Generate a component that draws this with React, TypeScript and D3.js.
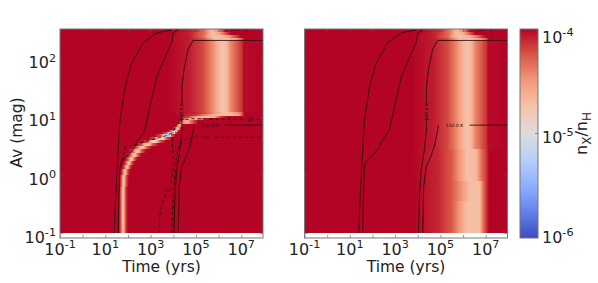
import React, { useEffect, useRef } from 'react';
import * as d3 from 'd3';

const width = 598;
const height = 283;
const panelLefts = [60, 304.5];
const panelWidth = 203;
const plotTop = 29;
const plotBottom = 238;
const font = '"DejaVu Sans", sans-serif';

// all values are log10: time in yrs, Av in mag, abundance n_X/n_H
const timeRange = [-1, 7.96];
const avRange = [-1.086, 2.517];
const xTickPowers = [-1, 0, 1, 2, 3, 4, 5, 6, 7];
const xLabelPowers = [-1, 1, 3, 5, 7];
const yTickPowers = [-1, 0, 1, 2];
const colorPowers = [-4, -5, -6];
const colorLabelShift = [14, 9.5, 5];
const coolwarm = ['#3b4cc0', '#6282ea', '#8db0fe', '#b7cff9', '#dddcdc', '#f5c4ac', '#f49a7b', '#d95847', '#b40426'];

type Stop = [number, number];
type Row = { top: number; stops: Stop[] };

// the narrow ridge in the left panel, one entry per row of the image
const ridgeAvTop = [-0.5, -0.2, 0, 0.1, 0.17, 0.24, 0.31, 0.38, 0.44, 0.5, 0.55, 0.6, 0.65, 0.7, 0.74, 0.78, 0.83, 0.88];
const ridgeCenter = [1.78, 1.78, 1.81, 1.87, 1.96, 2.04, 2.15, 2.28, 2.42, 2.62, 2.85, 3.15, 3.45, 3.78, 3.98, 4.1, 4.2, 4.29];
const ridgePeak = [-4.85, -4.85, -4.85, -4.85, -4.85, -4.85, -4.85, -4.85, -4.85, -4.85, -4.9, -5.05, -5.25, -5.5, -5.7, -5.45, -4.85, -4.7];
const ridgeLeft = [1.6, 1.6, 1.62, 1.67, 1.74, 1.8, 1.87, 1.95, 2.03, 2.17, 2.35, 2.6, 2.9, 3.15, 3.45, 3.72, 3.98, 4.08];
const ridgeRight = [1.98, 1.98, 2.02, 2.08, 2.18, 2.28, 2.42, 2.6, 2.8, 3.05, 3.35, 3.68, 3.95, 4.1, 4.2, 4.27, 4.36, 4.43];
const ridgeShoulder = -4.25;

const shoulderRows: Row[] = [
  { top: 0.95, stops: [[4.25, -4], [4.38, -4.35], [4.6, -4.65], [4.85, -4.25], [5.1, -4]] },
  { top: 0.985, stops: [[4.35, -4], [4.6, -4.55], [4.95, -4.72], [5.2, -4.35], [5.5, -4.05], [5.7, -4]] },
  { top: 1.02, stops: [[4.3, -4], [4.7, -4.2], [5, -4.55], [5.4, -4.72], [5.8, -4.6], [6.1, -4.15], [6.4, -4]] },
  { top: 1.055, stops: [[4.1, -4], [5, -4.15], [5.5, -4.45], [6, -4.72], [6.5, -4.72], [6.9, -4.55], [7.05, -4.2], [7.15, -4]] },
  { top: 1.09, stops: [[3.9, -4], [5, -4.1], [5.5, -4.25], [6, -4.6], [6.3, -4.74], [6.6, -4.6], [7, -4.35], [7.08, -4.1], [7.15, -4]] },
];

// the wide late-time band, shared by both panels high up in the cloud
const bandStops: Stop[] = [[3.75, -4], [4.7, -4.07], [5.3, -4.2], [5.75, -4.45], [6.06, -4.7], [6.2, -4.74], [6.37, -4.68], [6.5, -4.45], [6.9, -4.2], [7.03, -4.15], [7.1, -4.02], [7.95, -4]];
const capRows: Row[] = [
  { top: 2.33, stops: bandStops },
  { top: 2.37, stops: [[3.75, -4], [4.7, -4.07], [5.3, -4.22], [5.6, -4.45], [5.85, -4.72], [6.4, -4.72], [6.8, -4.5], [7, -4.3], [7.15, -4]] },
  { top: 2.42, stops: [[3.75, -4], [4.7, -4.08], [5.3, -4.3], [5.6, -4.6], [5.84, -4.75], [6.3, -4.62], [6.7, -4.25], [6.95, -4.05], [7, -4]] },
  { top: 2.47, stops: [[4, -4], [4.8, -4.1], [5.4, -4.35], [5.7, -4.72], [6, -4.62], [6.3, -4.25], [6.55, -4]] },
  { top: 2.52, stops: [[4.2, -4], [5, -4.12], [5.4, -4.35], [5.7, -4.7], [5.9, -4.55], [6.2, -4.15], [6.3, -4]] },
];

const rightLowRows: Row[] = [
  { top: -0.45, stops: [[3.85, -4], [4.89, -4.1], [5.49, -4.25], [5.93, -4.55], [6.17, -4.72], [6.72, -4.72], [6.87, -4.35], [7.08, -4.08], [7.12, -4]] },
  { top: -0.1, stops: [[3.85, -4], [4.89, -4.1], [5.49, -4.25], [6, -4.52], [6.3, -4.72], [6.72, -4.72], [6.87, -4.35], [7.08, -4.08], [7.12, -4]] },
  { top: 0.45, stops: [[3.8, -4], [4.89, -4.1], [5.49, -4.25], [5.93, -4.55], [6.17, -4.73], [6.55, -4.7], [6.8, -4.35], [7.08, -4.1], [7.12, -4]] },
];

const contourA = { t: [1.395, 1.457, 1.57, 1.62, 1.65, 1.87, 2.16, 2.67, 3.27, 3.63, 3.93], av: [-1, -0.38, 0.43, 0.78, 0.95, 1.52, 1.93, 2.28, 2.45, 2.48, 2.5] };
const contourB = { t: [1.57, 1.6, 1.65, 1.72, 2.09, 2.31, 2.35, 2.53, 2.75, 2.97, 3.27, 3.71, 3.93, 4, 4.2], av: [-1, -0.38, 0.14, 0.23, 0.38, 0.49, 0.55, 0.64, 0.78, 1.18, 1.69, 2.1, 2.28, 2.45, 2.51] };
const contourC1 = { t: [4.03, 4.07, 4.15, 4.29, 4.38, 4.38], av: [-1, -0.38, 0.09, 0.43, 0.78, 0.966] };
const contourC2 = { t: [4.38, 4.38, 4.47, 4.65, 4.87, 7.95], av: [1.207, 1.52, 1.81, 2.16, 2.32, 2.32] };
const contourD1 = { t: [4.22, 4.26, 4.37, 4.51, 4.73, 4.88, 4.91], av: [-1, -0.2, 0.14, 0.26, 0.49, 0.78, 0.86] };
const contourD2 = { t: [6.28, 7.95], av: [0.86, 0.86] };
const solidContours = [contourA, contourB, contourC1, contourC2, contourD1, contourD2];

const dashE1a = { t: [3.38, 3.41, 3.56, 3.68], av: [-1, -0.66, -0.43, -0.33] };
const dashE1b = { t: [3.9, 4, 4, 3.95, 3.93], av: [-0.14, 0.1, 0.35, 0.6, 0.7] };
const dashE2a = { t: [3.93, 4, 4.12, 4.2, 4.37, 5.03], av: [-1, -0.38, 0.26, 0.43, 0.6, 0.66] };
const dashE2b = { t: [5.84, 7.95], av: [0.65, 0.65] };
const dashE3a = { t: [1.68, 1.87, 2.4, 2.97, 3.63, 3.98, 4.12, 4.34, 4.87, 7.16], av: [0.14, 0.48, 0.53, 0.6, 0.67, 0.73, 0.86, 0.95, 0.97, 0.96] };
const dashE3b = { t: [7.69, 7.95], av: [0.96, 0.96] };
const dashedContours = [dashE1a, dashE1b, dashE2a, dashE2b, dashE3a, dashE3b];

const sharedLabels = [
  { t: 4.38, av: 1.09, text: '200.0 K', angle: -90 },
  { t: 5.62, av: 0.86, text: '150.0 K', angle: 0 },
  { t: 6.9, av: 2.51, text: '300.0 K', angle: 0 },
];
const dashLabels = [
  { t: 3.76, av: -0.27, text: '10⁷', angle: 0 },
  { t: 5.42, av: 0.655, text: '10⁵', angle: 0 },
  { t: 7.41, av: 0.96, text: '10⁶', angle: 0 },
];

const ridgeRows: Row[] = ridgeAvTop.map((top, i) => ({
  top,
  stops: [
    [ridgeLeft[i], -4],
    [(ridgeLeft[i] + ridgeCenter[i]) / 2, ridgeShoulder],
    [ridgeCenter[i], ridgePeak[i]],
    [(ridgeRight[i] + ridgeCenter[i]) / 2, ridgeShoulder],
    [ridgeRight[i], -4],
  ] as Stop[],
}));
const leftRows = [...ridgeRows, ...shoulderRows, ...capRows];
const rightRows = [...rightLowRows, ...capRows];

const colorScale = d3
  .scaleLinear<string>()
  .domain(coolwarm.map((_, i) => -6 + (2 * i) / (coolwarm.length - 1)))
  .range(coolwarm)
  .interpolate(d3.interpolateRgb);

const App = () => {
  const svgRef = useRef<SVGSVGElement>(null);

  useEffect(() => {
    const svg = d3.select(svgRef.current);
    svg.selectAll('*').remove();
    const defs = svg.append('defs');

    const y = d3
      .scaleLog()
      .domain([10 ** avRange[0], 10 ** avRange[1]])
      .range([plotBottom, plotTop]);

    const powerLabel = (sel: any, power: number, anchor: string, size: number) => {
      const text = sel.attr('text-anchor', anchor).attr('font-family', font).attr('font-size', size).attr('fill', '#222');
      text.append('tspan').text('10');
      text.append('tspan').attr('font-size', size * 0.7).attr('dy', -size * 0.42).text(String(power));
      return text;
    };

    panelLefts.forEach((left, p) => {
      const x = d3
        .scaleLog()
        .domain([10 ** timeRange[0], 10 ** timeRange[1]])
        .range([left, left + panelWidth]);
      const g = svg.append('g');
      const rows = p === 0 ? leftRows : rightRows;

      // heat rows, each with a horizontal gradient along time
      const samples = d3.range(timeRange[0], timeRange[1] + 0.04, 0.05);
      const heat = g.append('g').attr('shape-rendering', 'crispEdges');
      rows.forEach((row, i) => {
        const id = `row-${p}-${i}`;
        const value = d3
          .scaleLinear()
          .domain(row.stops.map(s => s[0]))
          .range(row.stops.map(s => s[1]))
          .clamp(true);
        defs
          .append('linearGradient')
          .attr('id', id)
          .attr('gradientUnits', 'userSpaceOnUse')
          .attr('x1', x.range()[0])
          .attr('x2', x.range()[1])
          .attr('y1', 0)
          .attr('y2', 0)
          .selectAll('stop')
          .data(samples)
          .join('stop')
          .attr('offset', d => (d - timeRange[0]) / (timeRange[1] - timeRange[0]))
          .attr('stop-color', d => colorScale(value(d)));
        const bottom = i === 0 ? -1 : rows[i - 1].top;
        const y0 = Math.round(y(10 ** bottom));
        const y1 = Math.round(Math.max(y(10 ** Math.min(row.top, avRange[1])), plotTop));
        heat
          .append('rect')
          .attr('x', x.range()[0])
          .attr('y', y1)
          .attr('width', panelWidth)
          .attr('height', y0 - y1)
          .attr('fill', `url(#${id})`);
      });

      // contours
      const clipId = `clip-${p}`;
      defs
        .append('clipPath')
        .attr('id', clipId)
        .append('rect')
        .attr('x', left)
        .attr('y', plotTop)
        .attr('width', panelWidth)
        .attr('height', plotBottom - plotTop);
      const lines = g.append('g').attr('clip-path', `url(#${clipId})`);
      const path = (c: { t: number[]; av: number[] }) =>
        d3.line()(c.t.map((t, i) => [x(10 ** t), y(10 ** c.av[i])]));
      lines
        .selectAll('path.solid')
        .data(solidContours)
        .join('path')
        .attr('class', 'solid')
        .attr('d', path)
        .attr('fill', 'none')
        .attr('stroke', '#1a0005')
        .attr('stroke-width', 0.8);
      if (p === 0) {
        lines
          .selectAll('path.dashed')
          .data(dashedContours)
          .join('path')
          .attr('class', 'dashed')
          .attr('d', path)
          .attr('fill', 'none')
          .attr('stroke', '#1a0005')
          .attr('stroke-width', 0.8)
          .attr('stroke-dasharray', '3.5,2.5');
      }
      const labels = p === 0 ? [...sharedLabels, ...dashLabels] : sharedLabels;
      lines
        .selectAll('text')
        .data(labels)
        .join('text')
        .attr('transform', d => `translate(${x(10 ** d.t)},${y(10 ** d.av)}) rotate(${d.angle})`)
        .attr('text-anchor', 'middle')
        .attr('dy', '0.35em')
        .attr('font-family', font)
        .attr('font-size', 4.5)
        .attr('fill', '#2a0008')
        .text(d => d.text);

      // axes, ticks point inward on all sides
      const xAxis = (sel: any, flip: boolean) =>
        sel.call(
          (flip ? d3.axisTop(x) : d3.axisBottom(x))
            .tickValues(xTickPowers.map(d => 10 ** d))
            .tickSize(-3)
            .tickFormat(() => '')
        );
      const yMajor = yTickPowers.map(d => 10 ** d);
      const yMinor = yTickPowers.flatMap(d => d3.range(2, 10).map(m => m * 10 ** d)).filter(v => v <= 10 ** avRange[1]);
      const yAxis = (sel: any, flip: boolean, vals: number[], size: number) =>
        sel.call((flip ? d3.axisRight(y) : d3.axisLeft(y)).tickValues(vals).tickSize(-size).tickFormat(() => ''));

      const axes = g.append('g');
      axes.append('g').attr('transform', `translate(0,${plotBottom})`).call((s: any) => xAxis(s, false));
      axes.append('g').attr('transform', `translate(0,${plotTop})`).call((s: any) => xAxis(s, true));
      axes.append('g').attr('transform', `translate(${left},0)`).call((s: any) => yAxis(s, false, yMajor, 3));
      axes.append('g').attr('transform', `translate(${left},0)`).call((s: any) => yAxis(s, false, yMinor, 1.6));
      axes.append('g').attr('transform', `translate(${left + panelWidth},0)`).call((s: any) => yAxis(s, true, yMajor, 3));
      axes.append('g').attr('transform', `translate(${left + panelWidth},0)`).call((s: any) => yAxis(s, true, yMinor, 1.6));
      axes.selectAll('.domain').remove();
      axes.selectAll('line').attr('stroke', '#555').attr('stroke-width', 0.6);
      g.append('rect')
        .attr('x', left)
        .attr('y', plotTop)
        .attr('width', panelWidth)
        .attr('height', plotBottom - plotTop)
        .attr('fill', 'none')
        .attr('stroke', '#777')
        .attr('stroke-width', 1);

      xLabelPowers.forEach(power => {
        powerLabel(g.append('text').attr('x', x(10 ** power)).attr('y', 255), power, 'middle', 16);
      });
      g.append('text')
        .attr('x', left + panelWidth / 2)
        .attr('y', 272)
        .attr('text-anchor', 'middle')
        .attr('font-family', font)
        .attr('font-size', 15.5)
        .attr('fill', '#222')
        .text('Time (yrs)');

      if (p === 0) {
        yTickPowers.forEach(power => {
          powerLabel(g.append('text').attr('x', left - 4).attr('y', y(10 ** power) + 9.5), power, 'end', 16);
        });
        g.append('text')
          .attr('transform', `translate(22,${(plotTop + plotBottom) / 2 - 1}) rotate(-90)`)
          .attr('text-anchor', 'middle')
          .attr('font-family', font)
          .attr('font-size', 15.5)
          .attr('fill', '#222')
          .text('Av (mag)');
      }
    });

    // colorbar
    const barLeft = 520;
    const barWidth = 18;
    const barScale = d3.scaleLinear().domain([-6, -4]).range([plotBottom, plotTop]);
    const barGrad = defs
      .append('linearGradient')
      .attr('id', 'bar')
      .attr('x1', 0)
      .attr('x2', 0)
      .attr('y1', 1)
      .attr('y2', 0);
    barGrad
      .selectAll('stop')
      .data(coolwarm)
      .join('stop')
      .attr('offset', (_, i) => i / (coolwarm.length - 1))
      .attr('stop-color', d => d);
    svg
      .append('rect')
      .attr('x', barLeft)
      .attr('y', plotTop)
      .attr('width', barWidth)
      .attr('height', plotBottom - plotTop)
      .attr('fill', 'url(#bar)')
      .attr('stroke', '#777')
      .attr('stroke-width', 1);
    colorPowers.forEach((power, i) => {
      powerLabel(svg.append('text').attr('x', barLeft + barWidth + 4).attr('y', barScale(power) + colorLabelShift[i]), power, 'start', 16);
    });
    svg
      .append('line')
      .attr('x1', barLeft + barWidth - 3)
      .attr('x2', barLeft + barWidth)
      .attr('y1', barScale(-5))
      .attr('y2', barScale(-5))
      .attr('stroke', '#555')
      .attr('stroke-width', 0.6);

    const barTitle = svg
      .append('text')
      .attr('transform', `translate(587,${(plotTop + plotBottom) / 2}) rotate(-90)`)
      .attr('text-anchor', 'middle')
      .attr('font-family', font)
      .attr('font-size', 16)
      .attr('fill', '#222');
    barTitle.append('tspan').text('n');
    barTitle.append('tspan').attr('font-size', 12).attr('dy', 4).text('X');
    barTitle.append('tspan').attr('dy', -4).text('/n');
    barTitle.append('tspan').attr('font-size', 12).attr('dy', 4).text('H');
  }, []);

  return <svg ref={svgRef} width={width} height={height} style={{ position: 'absolute', left: 0, top: 0 }} />;
};

export default App;
